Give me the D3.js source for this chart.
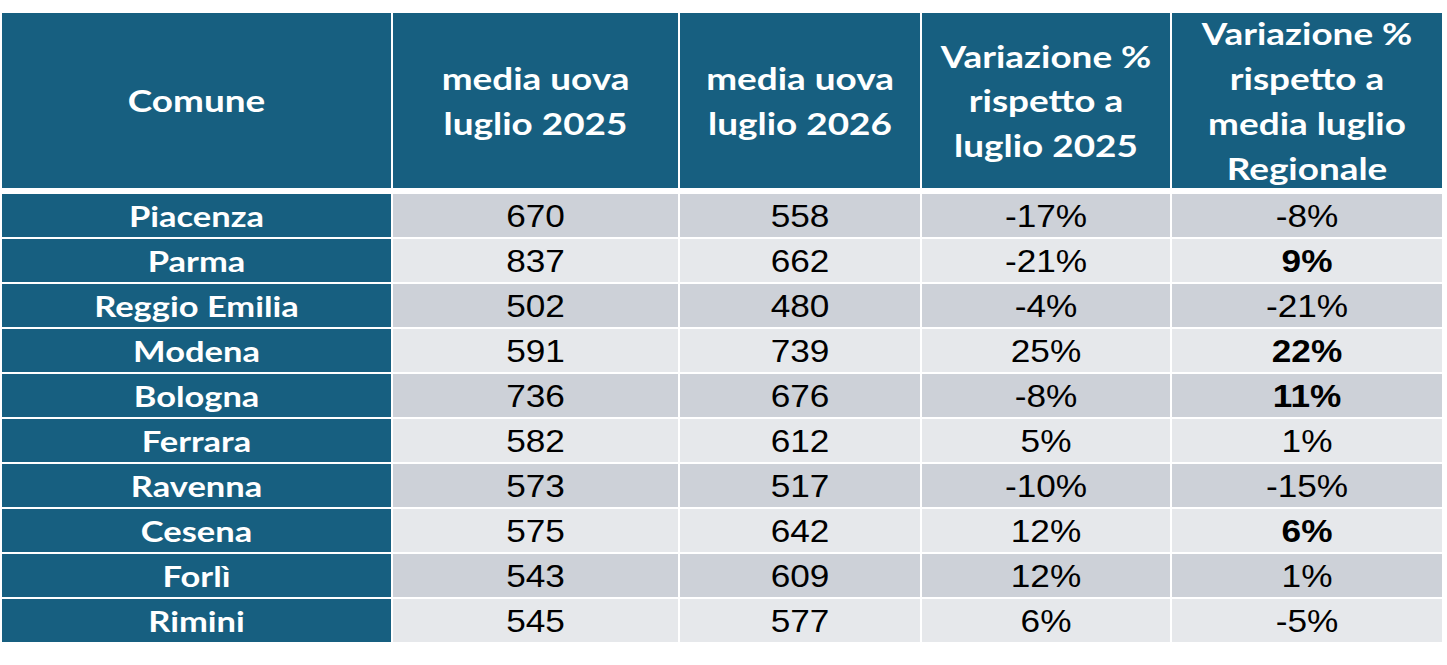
<!DOCTYPE html>
<html><head><meta charset="utf-8">
<script src="https://cdn.jsdelivr.net/npm/d3@7"></script>
<style>html,body{margin:0;padding:0;background:#fff;}svg{display:block;}</style>
</head><body>
<script>
const headers = [
  ["Comune"],
  ["media uova", "luglio 2025"],
  ["media uova", "luglio 2026"],
  ["Variazione %", "rispetto a", "luglio 2025"],
  ["Variazione %", "rispetto a", "media luglio", "Regionale"]
];
const comuni = ["Piacenza","Parma","Reggio Emilia","Modena","Bologna","Ferrara","Ravenna","Cesena","Forlì","Rimini"];
const media2025 = [670, 837, 502, 591, 736, 582, 573, 575, 543, 545];
const media2026 = [558, 662, 480, 739, 676, 612, 517, 642, 609, 577];
const varAnno = [-17, -21, -4, 25, -8, 5, -10, 12, 12, 6];
const varRegionale = [-8, 9, -21, 22, 11, 1, -15, 6, 1, -5];
const regionaleBold = [false, true, false, true, true, false, false, true, false, false];

const W = 1447, H = 665;
const colEdges = [2, 392, 679, 921, 1171, 1442];
const gap = 2;
const blue = "#175f80";
const rowFill = ["#cdd1d8", "#e6e8eb"];
const headFont = "Lato, Inter, sans-serif";
const bodyFont = "'Liberation Sans', Arial, sans-serif";
const headStretch = 1.21, bodyStretch = 1.1;

const svg = d3.select("body").append("svg").attr("width", W).attr("height", H);

const y = d3.scaleBand().domain(comuni).range([194, 642]).paddingInner(2/44.8).paddingOuter(0);
const cols = d3.range(5).map(i => ({x0: colEdges[i] + (i ? gap/2 : 0), x1: colEdges[i+1] - (i < 4 ? gap/2 : 0)}));

// header
const hTop = 13, hBot = 188, lineH = 44.7;
const hg = svg.append("g");
cols.forEach((c, i) => {
  hg.append("rect").attr("x", c.x0).attr("y", hTop).attr("width", c.x1 - c.x0).attr("height", hBot - hTop).attr("fill", blue);
  const lines = headers[i];
  const cy = (hTop + hBot) / 2 + 1;
  lines.forEach((t, k) => {
    hg.append("text")
      .attr("transform", `translate(${(c.x0 + c.x1) / 2},${cy + (k - (lines.length - 1) / 2) * lineH}) scale(${headStretch},1)`)
      .attr("dy", "0.36em")
      .attr("text-anchor", "middle")
      .attr("font-family", headFont).attr("font-weight", 700).attr("font-size", 30.5)
      .attr("fill", "#fff").text(t);
  });
});

const rows = comuni.map((c, i) => ({
  name: c,
  vals: [String(media2025[i]), String(media2026[i]), varAnno[i] + "%", varRegionale[i] + "%"],
  bold: [false, false, false, regionaleBold[i]],
  i
}));

const rg = svg.append("g").selectAll("g").data(rows).join("g").attr("transform", d => `translate(0,${y(d.name)})`);
rg.append("rect").attr("x", cols[0].x0).attr("width", cols[0].x1 - cols[0].x0).attr("height", y.bandwidth()).attr("fill", blue);
rg.append("text")
  .attr("transform", `translate(${(cols[0].x0 + cols[0].x1) / 2},${y.bandwidth() / 2 + 1}) scale(${headStretch},1)`)
  .attr("dy", "0.36em")
  .attr("text-anchor", "middle").attr("font-family", headFont).attr("font-weight", 700).attr("font-size", 28.5)
  .attr("fill", "#fff").text(d => d.name);

[1,2,3,4].forEach(ci => {
  const c = cols[ci];
  rg.append("rect").attr("x", c.x0).attr("width", c.x1 - c.x0).attr("height", y.bandwidth())
    .attr("fill", d => rowFill[d.i % 2]);
  rg.append("text")
    .attr("transform", `translate(${(c.x0 + c.x1) / 2},${y.bandwidth() / 2}) scale(${bodyStretch},1)`)
    .attr("dy", "0.36em")
    .attr("text-anchor", "middle").attr("font-family", bodyFont).attr("font-size", 32)
    .attr("font-weight", d => d.bold[ci - 1] ? 700 : 400)
    .attr("fill", "#000").text(d => d.vals[ci - 1]);
});
</script>
</body></html>
